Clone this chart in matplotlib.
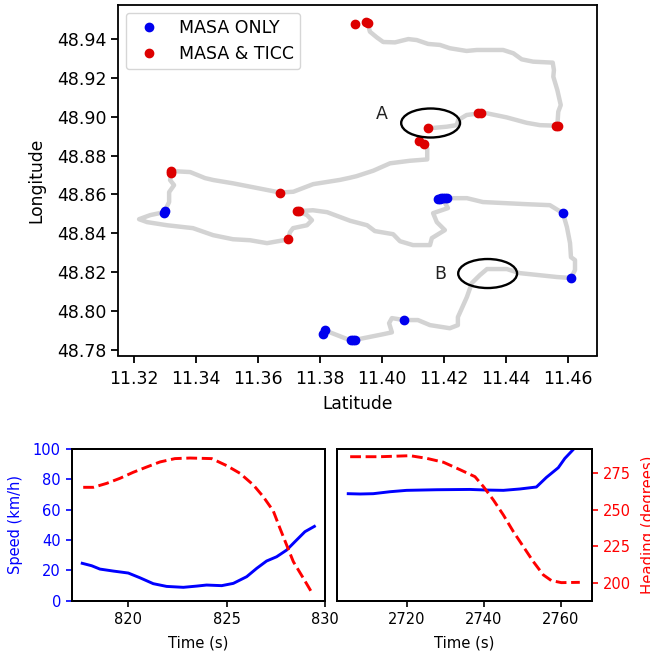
import matplotlib
matplotlib.use('Agg')
import matplotlib.pyplot as plt
from matplotlib.patches import Ellipse

# route, north part down to the marker inside ellipse A
route1_lon = [11.3953, 11.3961, 11.3983, 11.4004, 11.4042, 11.4085, 11.4112, 11.4149, 11.4187, 11.4219,
              11.4273, 11.4306, 11.4391, 11.4424, 11.4451, 11.4488, 11.4551, 11.4555, 11.4553, 11.4566,
              11.4577, 11.4569, 11.4566, 11.4510, 11.4467, 11.4402, 11.4338, 11.4316, 11.4273, 11.4246,
              11.4241, 11.4209, 11.4147]
route1_lat = [48.9484, 48.9436, 48.9407, 48.9383, 48.9381, 48.9398, 48.9393, 48.9373, 48.9368, 48.9351,
              48.9337, 48.9342, 48.9342, 48.9325, 48.9294, 48.9282, 48.9277, 48.9239, 48.9205, 48.9136,
              48.9059, 48.9025, 48.8953, 48.8956, 48.8968, 48.8996, 48.9017, 48.9017, 48.9008, 48.8982,
              48.8956, 48.8948, 48.8939]

# route, the rest
route2_lon = [11.4137, 11.4146, 11.4146, 11.4090, 11.4026, 11.3972, 11.3918, 11.3897, 11.3865, 11.3778,
              11.3714, 11.3671, 11.3520, 11.3456, 11.3429, 11.3381, 11.3323, 11.3316, 11.3329, 11.3313,
              11.3313, 11.3297, 11.3252, 11.3216, 11.3242, 11.3306, 11.3390, 11.3455, 11.3519, 11.3574,
              11.3629, 11.3697, 11.3703, 11.3713, 11.3758, 11.3774, 11.3758, 11.3729, 11.3777, 11.3823,
              11.3897, 11.3952, 11.3977, 11.4036, 11.4058, 11.4100, 11.4155, 11.4161, 11.4203, 11.4177,
              11.4165, 11.4213, 11.4194, 11.4274, 11.4326, 11.4468, 11.4542, 11.4584, 11.4597, 11.4607,
              11.4610, 11.4623, 11.4623, 11.4610, 11.4565, 11.4445, 11.4403, 11.4339, 11.4316, 11.4290,
              11.4274, 11.4245, 11.4245, 11.4219, 11.4155, 11.4116, 11.4071, 11.4032, 11.4023, 11.4032,
              11.4003, 11.3906, 11.3890, 11.3832, 11.3816, 11.3810]
route2_lat = [48.8857, 48.8837, 48.8780, 48.8773, 48.8760, 48.8722, 48.8694, 48.8686, 48.8675, 48.8653,
              48.8614, 48.8610, 48.8657, 48.8674, 48.8684, 48.8715, 48.8720, 48.8674, 48.8648, 48.8612,
              48.8561, 48.8509, 48.8494, 48.8473, 48.8458, 48.8442, 48.8427, 48.8391, 48.8370, 48.8365,
              48.8350, 48.8369, 48.8406, 48.8427, 48.8442, 48.8468, 48.8494, 48.8514, 48.8519, 48.8509,
              48.8465, 48.8442, 48.8412, 48.8396, 48.8360, 48.8340, 48.8340, 48.8376, 48.8417, 48.8458,
              48.8504, 48.8530, 48.8581, 48.8581, 48.8561, 48.8550, 48.8545, 48.8504, 48.8432, 48.8350,
              48.8278, 48.8263, 48.8212, 48.8171, 48.8176, 48.8196, 48.8217, 48.8217, 48.8186, 48.8145,
              48.8073, 48.7970, 48.7929, 48.7913, 48.7929, 48.7955, 48.7955, 48.7965, 48.7939, 48.7892,
              48.7882, 48.7851, 48.7856, 48.7892, 48.7903, 48.7882]

masa_lon = [11.3297, 11.3301, 11.3816, 11.3810, 11.3900, 11.3906, 11.3912, 11.4071, 11.4180, 11.4186, 11.4192, 11.4198, 11.4204, 11.4210,
            11.4584, 11.4610]
masa_lat = [48.8505, 48.8513, 48.7903, 48.7882, 48.7853, 48.7852, 48.7851, 48.7955, 48.8578, 48.8579, 48.8580, 48.8581, 48.8581, 48.8581,
            48.8504, 48.8171]

ticc_lon = [11.3912, 11.3948, 11.3955, 11.4147, 11.4120, 11.4137, 11.4311, 11.4321, 11.4562, 11.4568,
            11.3671, 11.3319, 11.3319, 11.3725, 11.3733, 11.3697]
ticc_lat = [48.9476, 48.9484, 48.9482, 48.8941, 48.8873, 48.8857, 48.9017, 48.9017, 48.8953, 48.8953,
            48.8610, 48.8718, 48.8710, 48.8514, 48.8514, 48.8370]

# event A
time_a = [817.66, 818.14, 818.56, 819.24, 820.0, 820.59, 821.27, 821.95, 822.8, 823.47, 823.98,
          824.75, 825.34, 826.02, 826.53, 827.03, 827.54, 828.05, 828.47, 828.98, 829.46]
speed_a = [24.6, 23, 20.8, 19.5, 18.2, 15.1, 11.2, 9.4, 8.8, 9.6, 10.3,
           9.9, 11.4, 15.8, 21.3, 26.1, 28.9, 33.3, 38.8, 45.4, 48.9]
head_time_a = [817.71, 818.22, 818.9, 819.58, 820.25, 820.93, 821.61, 822.37, 823.14, 824.24,
               825.0, 825.68, 826.36, 826.86, 827.37, 827.71, 828.05, 828.39, 828.9, 829.32]
heading_a = [265.4, 265.4, 268.1, 271.6, 275.7, 279.3, 282.8, 285.1, 285.5, 285.1,
             280.3, 275, 267, 259, 249.2, 237.3, 225.8, 214.4, 203, 193.4]

# event B
time_b = [2704.7, 2707.8, 2711.2, 2715.6, 2719.9, 2727.7, 2736.4, 2740.7, 2745.1, 2749.4,
          2753.7, 2756.3, 2759.4, 2761.1, 2763.5, 2764.6]
speed_b = [70.4, 70.2, 70.4, 71.7, 72.6, 73, 73.2, 72.8, 72.6, 73.5,
           74.8, 81.1, 87.5, 93.6, 100, 103]
head_time_b = [2705.2, 2713, 2720.8, 2725.1, 2729.5, 2733.8, 2737.7, 2739.9, 2742.5, 2745.1,
               2747.7, 2750.3, 2752.9, 2755.5, 2757.6, 2760.2, 2765]
heading_b = [286.4, 286.4, 287.1, 285.3, 282.6, 277.5, 272.7, 265.9, 256.7, 246.4,
             235, 224.7, 214.4, 205.3, 201.4, 200, 200.2]

W, H = 650, 654


def axes_px(fig, x0, y0, x1, y1):
    return fig.add_axes([x0 / W, 1 - y1 / H, (x1 - x0) / W, (y1 - y0) / H])


fig = plt.figure(figsize=(W / 100, H / 100), dpi=100)

# map
ax = axes_px(fig, 118, 5, 597, 355.5)
ax.plot(route1_lon, route1_lat, color='lightgray', lw=3.2, zorder=1)
ax.plot(route2_lon, route2_lat, color='lightgray', lw=3.2, zorder=1)
ax.plot(masa_lon, masa_lat, 'o', color='#0000ee', ms=6, label='MASA ONLY', zorder=2)
ax.plot(ticc_lon, ticc_lat, 'o', color='#dd0000', ms=6, label='MASA & TICC', zorder=2)
ax.add_patch(Ellipse((11.4157, 48.8967), 0.0190, 0.0149, fill=False, ec='black', lw=1.7, zorder=3))
ax.add_patch(Ellipse((11.4341, 48.8194), 0.0190, 0.0149, fill=False, ec='black', lw=1.7, zorder=3))
ax.text(11.40, 48.9013, 'A', fontsize=12.5, ha='center', va='center', color='#222222')
ax.text(11.4187, 48.8194, 'B', fontsize=12.5, ha='center', va='center', color='#222222')
ax.set_xlim(11.3148, 11.4694)
ax.set_ylim(48.7773, 48.9573)
ax.set_xticks([11.32, 11.34, 11.36, 11.38, 11.40, 11.42, 11.44, 11.46])
ax.set_yticks([48.78, 48.80, 48.82, 48.84, 48.86, 48.88, 48.90, 48.92, 48.94])
ax.xaxis.set_major_formatter('{x:.2f}')
ax.yaxis.set_major_formatter('{x:.2f}')
ax.tick_params(labelsize=12.5, width=1.3, length=5)
ax.tick_params(axis='x', pad=5.5)
ax.set_xlabel('Latitude', fontsize=12.3, labelpad=5)
ax.set_ylabel('Longitude', fontsize=12.3, labelpad=8.5)
ax.legend(loc='upper left', fontsize=12.5, handletextpad=0.75, borderaxespad=0.46, borderpad=0.33,
          numpoints=1)
for s in ax.spines.values():
    s.set_linewidth(1.3)

# speed and heading, event A
ax_a = axes_px(fig, 72, 448.7, 325, 600.7)
ax_a.plot(time_a, speed_a, color='b', lw=2.1)
ax_a.set_xlim(817.14, 830)
ax_a.set_ylim(0, 100)
ax_a.set_xticks([820, 825, 830])
ax_a.set_yticks([0, 20, 40, 60, 80, 100])
ax_a.tick_params(axis='x', labelsize=10.5, width=1.2, length=4.5)
ax_a.tick_params(axis='y', labelsize=10.5, width=1.2, length=4.5, colors='b')
ax_a.set_xlabel('Time (s)', fontsize=10.7, labelpad=6)
ax_a.set_ylabel('Speed (km/h)', fontsize=10.5, color='b', labelpad=7)
tw_a = ax_a.twinx()
tw_a.plot(head_time_a, heading_a, color='r', lw=2.1, ls='--')
tw_a.set_ylim(187.6, 291.9)
tw_a.set_yticks([])

# speed and heading, event B
ax_b = axes_px(fig, 337.3, 448.7, 591.7, 600.7)
ax_b.plot(time_b, speed_b, color='b', lw=2.1)
ax_b.set_xlim(2701.85, 2768.1)
ax_b.set_ylim(0, 100)
ax_b.set_xticks([2720, 2740, 2760])
ax_b.set_yticks([])
ax_b.tick_params(axis='x', labelsize=10.5, width=1.2, length=4.5)
ax_b.set_xlabel('Time (s)', fontsize=10.7, labelpad=6)
tw_b = ax_b.twinx()
tw_b.plot(head_time_b, heading_b, color='r', lw=2.1, ls='--')
tw_b.set_ylim(187.6, 291.9)
tw_b.set_yticks([200, 225, 250, 275])
tw_b.tick_params(axis='y', labelsize=10.5, width=1.2, length=4.5, colors='r')
tw_b.set_ylabel('Heading (degrees)', fontsize=10.7, color='r', labelpad=7)

for a in [ax_a, tw_a, ax_b, tw_b]:
    for s in a.spines.values():
        s.set_linewidth(1.4)

fig.savefig('out.png', dpi=100)
